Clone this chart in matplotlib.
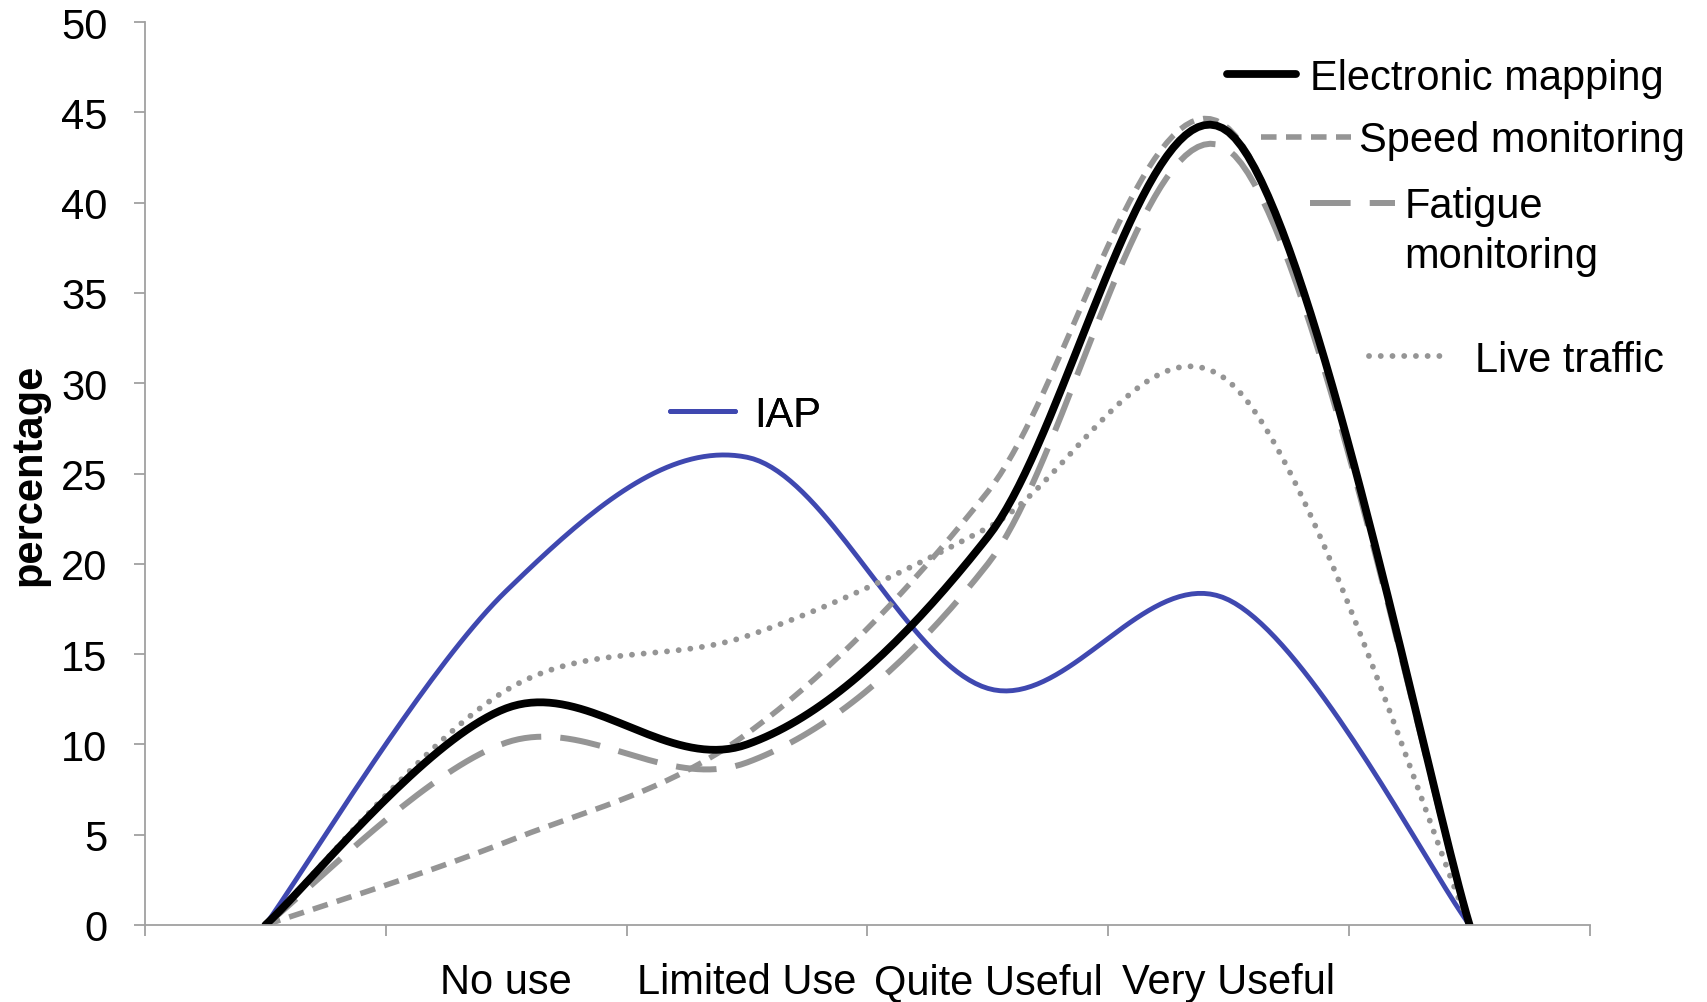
import numpy as np
import matplotlib
matplotlib.use("Agg")
import matplotlib.pyplot as plt

plt.rcParams['font.family'] = ['Liberation Sans', 'DejaVu Sans']

# DATA (first and last slots are unlabeled anchor points at zero)
categories = ["", "No use", "Limited Use", "Quite Useful", "Very Useful", ""]
electronic_mapping = [0, 12.0, 10.0, 21.5, 43.9, 0]
speed_monitoring = [0, 4.6, 10.6, 24.0, 44.1, 0]
fatigue_monitoring = [0, 10.1, 9.0, 20.0, 42.9, 0]
live_traffic = [0, 13.0, 16.0, 22.0, 30.1, 0]
iap = [0, 18.5, 25.9, 13.1, 18.0, 0]

GRAY = '#959595'
BLUE = '#3f48b0'
FS = 30


def smooth(vals, n=40):
    # excel-ish bezier smoothing (catmull-rom control points)
    x = np.arange(len(vals), dtype=float)
    y = np.asarray(vals, dtype=float)
    px = np.concatenate([[x[0]], x, [x[-1]]])
    py = np.concatenate([[y[0]], y, [y[-1]]])
    t = np.linspace(0, 1, n)[:, None]
    out_x, out_y = [], []
    for i in range(len(vals) - 1):
        for p, out in ((px, out_x), (py, out_y)):
            p0, p1, p2, p3 = p[i], p[i + 1], p[i + 2], p[i + 3]
            c1 = p1 + (p2 - p0) / 6
            c2 = p2 - (p3 - p1) / 6
            b = ((1 - t) ** 3 * p1 + 3 * (1 - t) ** 2 * t * c1
                 + 3 * (1 - t) * t ** 2 * c2 + t ** 3 * p2)
            out.append(b.ravel())
    return np.concatenate(out_x), np.concatenate(out_y)


fig = plt.figure(figsize=(17.08, 10.03), dpi=100)
ax = fig.add_axes([0.0849, 0.0768, 0.846, 0.9002])

x, y = smooth(iap)
l_iap, = ax.plot(x, y, color=BLUE, lw=3.5, solid_capstyle='round')
x, y = smooth(live_traffic)
l_live, = ax.plot(x, y, color=GRAY, lw=4.2, linestyle=(0, (0.01, 2.0)),
                  dash_capstyle='round')
x, y = smooth(speed_monitoring)
l_speed, = ax.plot(x, y, color=GRAY, lw=4.0, linestyle=(0, (2.8, 1.7)))
x, y = smooth(fatigue_monitoring)
l_fat, = ax.plot(x, y, color=GRAY, lw=4.3, linestyle=(0, (6.8, 3.2)))
x, y = smooth(electronic_mapping)
l_em, = ax.plot(x, y, color='black', lw=5.6, solid_capstyle='round')

ax.set_xlim(-0.5, len(categories) - 0.5)
ax.set_ylim(0, 50)
ax.set_yticks(np.arange(0, 51, 5))
ax.set_xticks(np.arange(len(categories) + 1) - 0.5)
ax.set_xticklabels([])
ax.set_xticks(np.arange(len(categories)), minor=True)
ax.set_xticklabels(categories, minor=True)

for s in ['top', 'right']:
    ax.spines[s].set_visible(False)
for s in ['left', 'bottom']:
    ax.spines[s].set_color('#a0a0a0')
    ax.spines[s].set_linewidth(1.3)

ax.tick_params(axis='y', direction='out', length=8, width=1.3, color='#a0a0a0',
               labelsize=FS, pad=19)
ax.tick_params(axis='x', which='major', direction='out', length=8, width=1.3, color='#a0a0a0')
ax.tick_params(axis='x', which='minor', length=0, labelsize=FS, pad=27)

ax.set_ylabel('percentage', fontsize=30, fontweight='bold')
ax.yaxis.set_label_coords(-0.066, 0.5)


def add_key(line, label, xa, ya, hl, pad):
    leg = ax.legend([line], [label], loc='center left', bbox_to_anchor=(xa, ya),
                    frameon=False, fontsize=FS, handlelength=hl, handletextpad=pad,
                    borderpad=0, borderaxespad=0)
    ax.add_artist(leg)
    return leg


add_key(l_em, 'Electronic mapping', 0.749, 0.938, 1.65, 0.34)
add_key(l_speed, 'Speed monitoring', 0.772, 0.869, 2.16, 0.21)
leg_fat = add_key(l_fat, 'Fatigue', 0.806, 0.796, 2.06, 0.21)
add_key(l_live, 'Live traffic', 0.847, 0.626, 1.97, 0.57)
add_key(l_iap, 'IAP', 0.363, 0.565, 1.58, 0.44)

# second line of the fatigue label, aligned under "Fatigue"
fig.canvas.draw()
bb = leg_fat.get_texts()[0].get_window_extent().transformed(ax.transAxes.inverted())
ax.text(bb.x0, 0.741, 'monitoring', transform=ax.transAxes, fontsize=FS,
        ha='left', va='center')

fig.savefig('out.png', dpi=100)
